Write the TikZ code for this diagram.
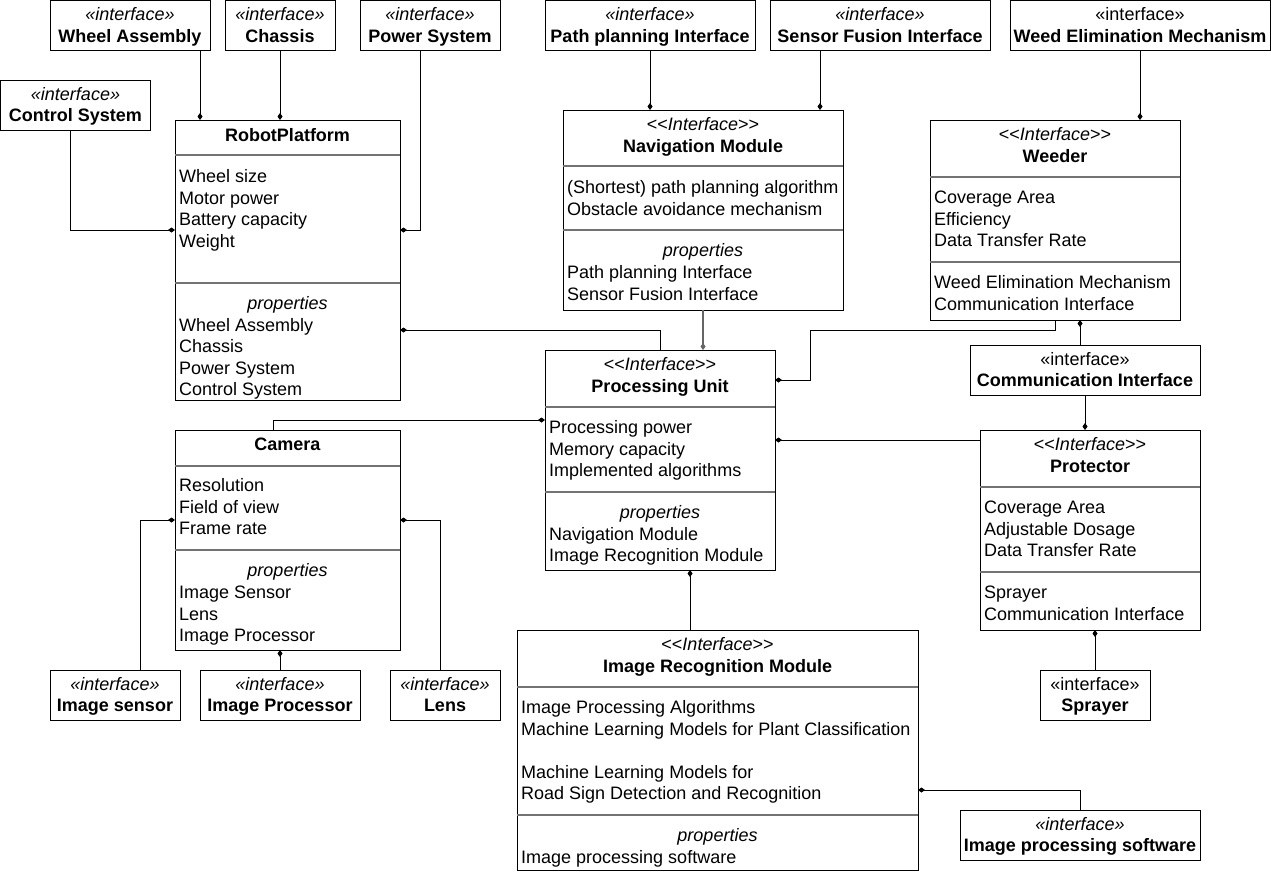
\documentclass[tikz,border=0pt]{standalone}
\usepackage{fontspec}
\setmainfont{Liberation Sans}
\usetikzlibrary{arrows.meta}

\tikzset{
  box/.style={draw=black, line width=1pt, fill=white, inner sep=0pt, outer sep=0pt, anchor=north west},
  sepline/.style={draw=black!55, line width=1.4pt},
  lbl/.style={inner sep=0pt, font=\fontsize{18}{21.6}\selectfont},
  comp/.style={draw=black, line width=1pt, -{Diamond[length=7pt,width=5pt]}},
}

% <<Interface>> stereotype (kerns keep the TeX mapping from making guillemets)
\newcommand\stereo{<\kern0pt<\textit{Interface}>\kern0pt>}

% small interface box: name, x, y, width, stereotype shape, title
\newcommand\ifacebox[6]{%
  \node[box, minimum width=#4pt, minimum height=50pt] (#1) at (#2,#3) {};
  \node[lbl, anchor=base] (#1-st) at ([yshift=-20pt]#1.north) {#5«interface»};
  \node[lbl, anchor=base] (#1-nm) at ([yshift=-41.6pt]#1.north) {\bfseries #6};
}
% class box outline: name, x, y, width, height
\newcommand\classbox[5]{%
  \node[box, minimum width=#4pt, minimum height=#5pt] (#1) at (#2,#3) {};
}
% compartment separator at an offset below the top
\newcommand\sepat[2]{%
  \draw[sepline] ([yshift=-#2pt]#1.north west) -- ([yshift=-#2pt]#1.north east);
}
% centred line: name, box, baseline offset, text
\newcommand\centertext[4]{%
  \node[lbl, anchor=base] (#1) at ([yshift=-#3pt]#2.north) {#4};
}
% left aligned rows: box, name prefix, first baseline offset, lines
\newcommand\attrrows[4]{%
  \foreach \t [count=\i from 0] in {#4}{%
    \node[lbl, anchor=base west] (#2\i) at ([xshift=4pt,yshift={-(#3+21.6*\i)}]#1.north west) {\t};
  }%
}

\begin{document}
\begin{tikzpicture}[x=1pt, y=-1pt]
\useasboundingbox (0,0) rectangle (1271,871);

% ---------- interfaces ----------
\ifacebox{wa}{50}{0.5}{160}{\itshape}{Wheel Assembly}
\ifacebox{ch}{225}{0.5}{110}{\itshape}{Chassis}
\ifacebox{ps}{360}{0.5}{140}{\itshape}{Power System}
\ifacebox{cs}{0.5}{80}{150}{\itshape}{Control System}
\ifacebox{pp}{545}{0.5}{210}{\itshape}{Path planning Interface}
\ifacebox{sf}{770}{0.5}{220}{\itshape}{Sensor Fusion Interface}
\ifacebox{wem}{1010}{0.5}{260}{\upshape}{Weed Elimination Mechanism}
\ifacebox{ci}{970}{345}{230}{\upshape}{Communication Interface}
\ifacebox{is}{50}{670}{130}{\itshape}{Image sensor}
\ifacebox{ip}{200}{670}{160}{\itshape}{Image Processor}
\ifacebox{ln}{390}{670}{110}{\itshape}{Lens}
\ifacebox{sp}{1040}{670}{110}{\upshape}{Sprayer}
\ifacebox{ips}{960}{810}{240}{\itshape}{Image processing software}

% ---------- RobotPlatform ----------
\classbox{rp}{175}{120}{225}{280}
\sepat{rp}{35}
\sepat{rp}{163}
\centertext{rp-t}{rp}{21}{\bfseries RobotPlatform}
\attrrows{rp}{rp-a}{62.7}{Wheel size, Motor power, Battery capacity, Weight}
\centertext{rp-p}{rp}{189.5}{\itshape properties}
\attrrows{rp}{rp-b}{211.1}{Wheel Assembly, Chassis, Power System, Control System}

% ---------- Navigation Module ----------
\classbox{nav}{563}{110}{280}{200}
\sepat{nav}{56}
\sepat{nav}{120}
\centertext{nav-s}{nav}{20.5}{\stereo}
\centertext{nav-t}{nav}{42}{\bfseries Navigation Module}
\attrrows{nav}{nav-a}{83.5}{{(Shortest) path planning algorithm}, Obstacle avoidance mechanism}
\centertext{nav-p}{nav}{146.5}{\itshape properties}
\attrrows{nav}{nav-b}{168.5}{Path planning Interface, Sensor Fusion Interface}

% ---------- Weeder ----------
\classbox{wd}{930}{120}{250}{200}
\sepat{wd}{57}
\sepat{wd}{142}
\centertext{wd-s}{wd}{20.5}{\stereo}
\centertext{wd-t}{wd}{42}{\bfseries Weeder}
\attrrows{wd}{wd-a}{83.5}{Coverage Area, Efficiency, Data Transfer Rate}
\attrrows{wd}{wd-b}{168.5}{Weed Elimination Mechanism, Communication Interface}

% ---------- Processing Unit ----------
\classbox{pu}{545}{350}{230}{220}
\sepat{pu}{57}
\sepat{pu}{142}
\centertext{pu-s}{pu}{20.5}{\stereo}
\centertext{pu-t}{pu}{42}{\bfseries Processing Unit}
\attrrows{pu}{pu-a}{83.5}{Processing power, Memory capacity, Implemented algorithms}
\centertext{pu-p}{pu}{168.5}{\itshape properties}
\attrrows{pu}{pu-b}{190}{Navigation Module, Image Recognition Module}

% ---------- Camera ----------
\classbox{cam}{175}{430}{225}{220}
\sepat{cam}{36}
\sepat{cam}{120}
\centertext{cam-t0}{cam}{20.5}{\bfseries Camera}
\attrrows{cam}{cam-a}{61.5}{Resolution, Field of view, Frame rate}
\centertext{cam-p}{cam}{146.5}{\itshape properties}
\attrrows{cam}{cam-b}{168.5}{Image Sensor, Lens, Image Processor}

% ---------- Protector ----------
\classbox{pr}{980}{430}{220}{200}
\sepat{pr}{57}
\sepat{pr}{142}
\centertext{pr-s}{pr}{20.5}{\stereo}
\centertext{pr-t}{pr}{42}{\bfseries Protector}
\attrrows{pr}{pr-a}{83.5}{Coverage Area, Adjustable Dosage, Data Transfer Rate}
\attrrows{pr}{pr-b}{168.5}{Sprayer, Communication Interface}

% ---------- Image Recognition Module ----------
\classbox{irm}{517}{630}{401}{240}
\sepat{irm}{57}
\sepat{irm}{185}
\centertext{irm-s}{irm}{20.5}{\stereo}
\centertext{irm-t0}{irm}{42}{\bfseries Image Recognition Module}
\attrrows{irm}{irm-a}{83.5}{Image Processing Algorithms, Machine Learning Models for Plant Classification}
\attrrows{irm}{irm-c}{148.3}{Machine Learning Models for, Road Sign Detection and Recognition}
\centertext{irm-p}{irm}{211.5}{\itshape properties}
\attrrows{irm}{irm-b}{233.5}{Image processing software}

% ---------- composition connectors ----------
\coordinate (wa-p) at ([xshift=-10pt]wa.south east);
\draw[comp] (wa-p) -- (wa-p |- rp.north);
\draw[comp] (ch.south) -- (ch.south |- rp.north);
\coordinate (ps-p) at ([xshift=-10pt]ps.south);
\coordinate (rp-r1) at ([yshift=30pt]rp.east);
\draw[comp] (ps-p) |- (rp-r1);
\coordinate (cs-p) at ([xshift=-5pt]cs.south);
\coordinate (rp-l1) at ([yshift=30pt]rp.west);
\draw[comp] (cs-p) |- (rp-l1);

\draw[comp] (pp.south) -- (pp.south |- nav.north);
\coordinate (sf-p) at ([xshift=-60pt]sf.south);
\draw[comp] (sf-p) -- (sf-p |- nav.north);
\draw[comp] (wem.south) -- (wem.south |- wd.north);

\draw[comp, draw=black!60, line width=1.4pt] (nav.south) -- (nav.south |- pu.north);
\coordinate (rp-r2) at ([yshift=-70pt]rp.east);
\draw[comp] (pu.north) |- (rp-r2);
\coordinate (pu-r1) at ([yshift=80pt]pu.east);
\draw[comp] (wd.south) -- ++(0,10) -| ([xshift=35pt]pu-r1) -- (pu-r1);

\coordinate (ci-t) at ([xshift=-5pt]ci.north);
\draw[comp] (ci-t) -- (ci-t |- wd.south);
\draw[comp] (ci.south) -- (ci.south |- pr.north);
\coordinate (pr-l) at ([yshift=90pt]pr.west);
\draw[comp] (pr-l) -- (pr-l -| pu.east);

\coordinate (cam-tp) at ([xshift=-14.5pt]cam.north);
\coordinate (pu-l) at ([yshift=40pt]pu.west);
\draw[comp] (cam-tp) |- (pu-l);
\coordinate (is-t) at ([xshift=25pt]is.north);
\coordinate (cam-l) at ([yshift=20pt]cam.west);
\draw[comp] (is-t) |- (cam-l);
\draw[comp] (ip.north) -- (ip.north |- cam.south);
\coordinate (ln-t) at ([xshift=-5pt]ln.north);
\coordinate (cam-r) at ([yshift=20pt]cam.east);
\draw[comp] (ln-t) |- (cam-r);

\coordinate (irm-tp) at ([xshift=-27.5pt]irm.north);
\draw[comp] (irm-tp) -- (irm-tp |- pu.south);
\coordinate (irm-r) at ([yshift=-40pt]irm.east);
\draw[comp] (ips.north) |- (irm-r);
\draw[comp] (sp.north) -- (sp.north |- pr.south);
\end{tikzpicture}
\end{document}
